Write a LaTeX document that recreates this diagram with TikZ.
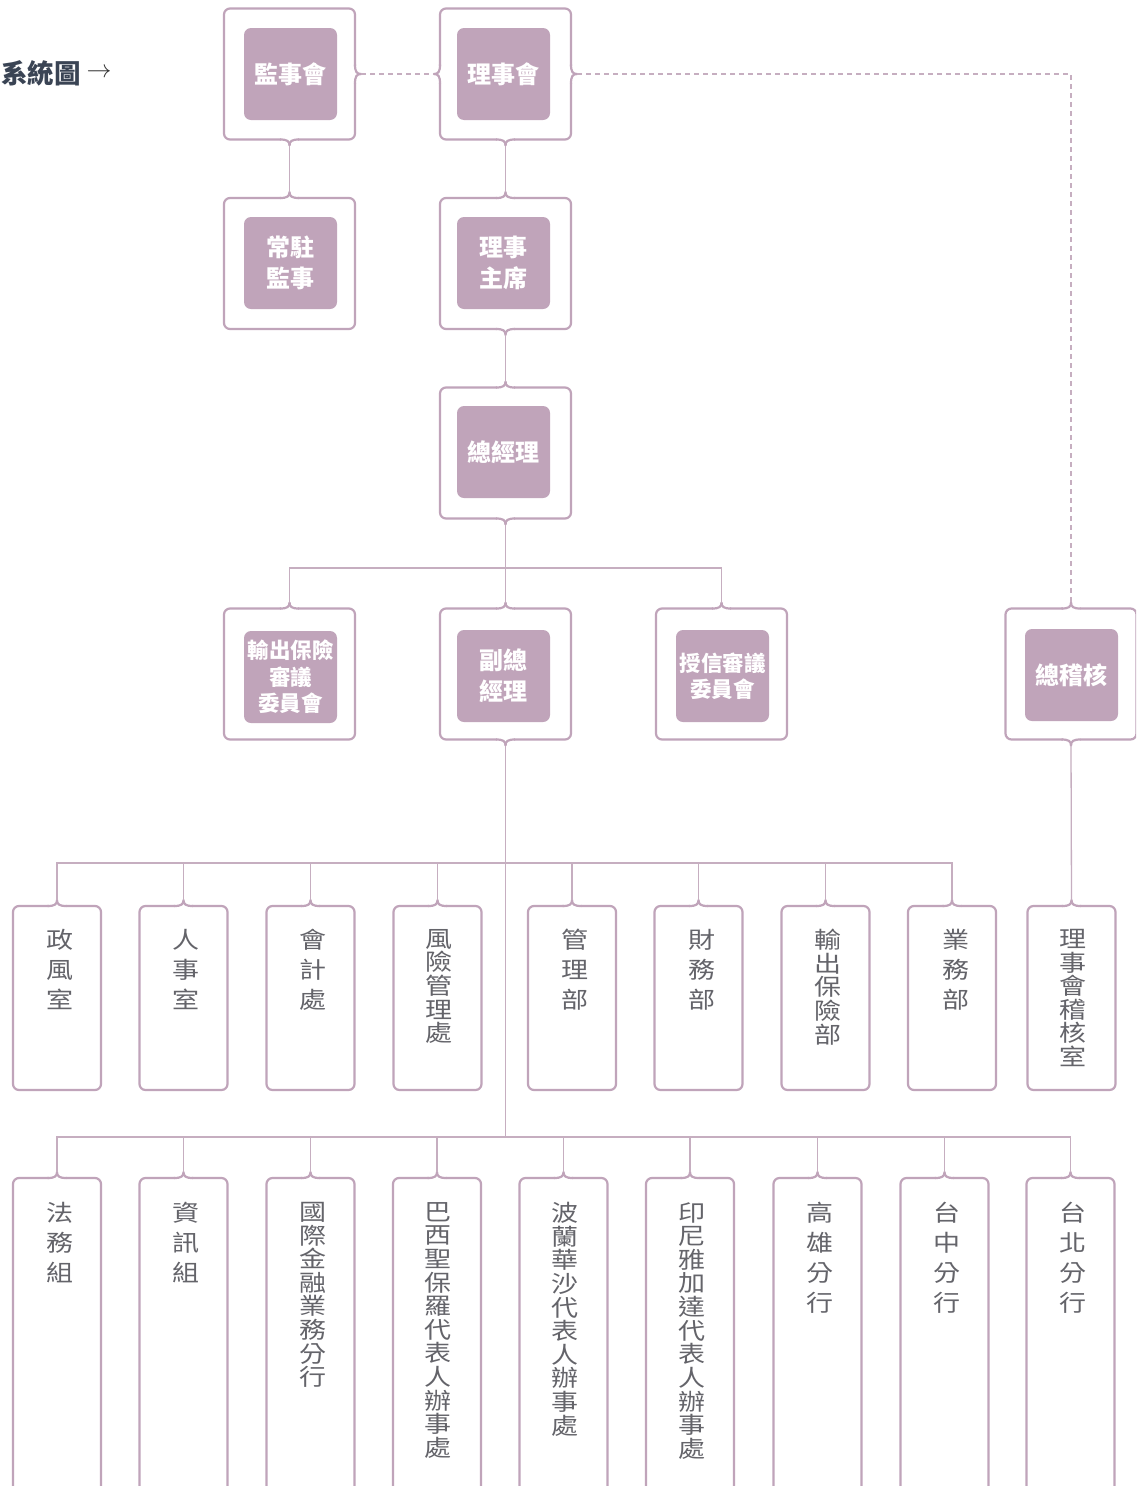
\documentclass[tikz,border=0pt]{standalone}
\usepackage{fontspec}
\newfontfamily\cjk{Noto Sans CJK TC}
\definecolor{mauve}{RGB}{192,164,186}
\definecolor{lnc}{RGB}{198,174,192}
\definecolor{gtext}{RGB}{100,100,106}
\definecolor{slate}{RGB}{58,68,84}
\tikzset{
  obox/.style={draw=mauve, line width=2.2pt, rounded corners=6pt, minimum width=131pt, minimum height=131pt, inner sep=0pt, outer sep=6pt},
  lbox/.style={obox, minimum width=88pt, minimum height=184pt},
  mbox/.style={obox, minimum width=88pt, minimum height=342pt},
  ibox/.style={fill=mauve, rounded corners=7pt, minimum width=93pt, minimum height=92pt, inner sep=0pt, text=white, align=center, font=\cjk\bfseries\fontsize{24}{31}\selectfont},
  iboxs/.style={ibox, font=\cjk\bfseries\fontsize{21.5}{26.5}\selectfont},
  vt/.style={text=gtext, align=center, inner sep=0pt, anchor=north, yscale=0.85, font=\cjk\fontsize{27}{35.3}\selectfont},
  vtl/.style={vt, font=\cjk\fontsize{27}{27.8}\selectfont},
  conn/.style={draw=lnc, line width=1.3pt},
  dconn/.style={conn, dash pattern=on 5pt off 4pt},
  brace/.style={draw=mauve, line width=2.2pt, line join=round},
  nT/.pic={\fill[white] (-8.5,4) rectangle (8.5,8);
    \path[brace] (-9.5,6) .. controls (-2.5,6) and (0,4.5) .. (0,0) .. controls (0,4.5) and (2.5,6) .. (9.5,6);},
  nB/.pic={\fill[white] (-8.5,-8) rectangle (8.5,-4);
    \path[brace] (-9.5,-6) .. controls (-2.5,-6) and (0,-4.5) .. (0,0) .. controls (0,-4.5) and (2.5,-6) .. (9.5,-6);},
  nL/.pic={\fill[white] (4,-8.5) rectangle (8,8.5);
    \path[brace] (6,-9.5) .. controls (6,-2.5) and (4.5,0) .. (0,0) .. controls (4.5,0) and (6,2.5) .. (6,9.5);},
  nR/.pic={\fill[white] (-8,-8.5) rectangle (-4,8.5);
    \path[brace] (-6,-9.5) .. controls (-6,-2.5) and (-4.5,0) .. (0,0) .. controls (-4.5,0) and (-6,2.5) .. (-6,9.5);},
}
\begin{document}
\begin{tikzpicture}[x=1pt,y=-1pt]
\useasboundingbox (0,0) rectangle (1136,1486);
\clip (0,0) rectangle (1136,1486);
\fill[white] (0,0) rectangle (1136,1486);

% title
\node[anchor=west, inner sep=0pt, text=slate, font=\cjk\bfseries\fontsize{26.5}{26.5}\selectfont] (title) at (1,73) {系統圖};
\node[inner sep=0pt, text=black!80, font=\fontsize{25}{25}\selectfont] (arrow) at (99,73) {$\rightarrow$};

% upper boxes
\node[obox] (jsh) at (289.5,74) {};
\node[ibox] (jshi) at (290.5,74) {監事會};
\node[obox] (lsh) at (505.5,74) {};
\node[ibox] (lshi) at (503.5,74) {理事會};
\node[obox] (czh) at (289.5,263.5) {};
\node[ibox] (czhi) at (290.5,263) {常駐\\監事};
\node[obox] (lszx) at (505.5,263.5) {};
\node[ibox] (lszxi) at (503.5,263) {理事\\主席};
\node[obox] (zjl) at (505.5,453) {};
\node[ibox] (zjli) at (503.5,452) {總經理};
\node[obox] (sc) at (289.5,674) {};
\node[iboxs] (sci) at (290.5,677) {輸出保險\\審議\\委員會};
\node[obox] (fz) at (505.5,674) {};
\node[ibox] (fzi) at (503.5,676) {副總\\經理};
\node[obox] (sx) at (721.5,674) {};
\node[iboxs] (sxi) at (722.5,676) {授信審議\\委員會};
\node[obox] (zjh) at (1071,674) {};
\node[ibox] (zjhi) at (1071.5,675) {總稽核};

% row 5
\foreach \n/\x in {r5a/57, r5b/183.5, r5c/310.5, r5d/437.5, r5e/572, r5f/698.5, r5g/825.5, r5h/952, r5i/1071.5}
  \node[lbox] (\n) at (\x,998) {};
\node[vt]  (t5a) at (59.5,929) {政\\風\\室};
\node[vt]  (t5b) at (185.5,929) {人\\事\\室};
\node[vt]  (t5c) at (312.5,929) {會\\計\\處};
\node[vtl] (t5d) at (438.5,929) {風\\險\\管\\理\\處};
\node[vt]  (t5e) at (575,929) {管\\理\\部};
\node[vt]  (t5f) at (702,929) {財\\務\\部};
\node[vtl] (t5g) at (827.5,929) {輸\\出\\保\\險\\部};
\node[vt]  (t5h) at (955.5,929) {業\\務\\部};
\node[vtl] (t5i) at (1072.5,929) {理\\事\\會\\稽\\核\\室};

% row 6
\foreach \n/\x in {r6a/57, r6b/183.5, r6c/310.5, r6d/437, r6e/563.5, r6f/690, r6g/817.5, r6h/944.5, r6i/1070.5}
  \node[mbox] (\n) at (\x,1349) {};
\node[vt]  (t6a) at (59.5,1202) {法\\務\\組};
\node[vt]  (t6b) at (185.5,1202) {資\\訊\\組};
\node[vtl] (t6c) at (312.5,1202) {國\\際\\金\\融\\業\\務\\分\\行};
\node[vtl] (t6d) at (437.5,1202) {巴\\西\\聖\\保\\羅\\代\\表\\人\\辦\\事\\處};
\node[vtl] (t6e) at (565,1202) {波\\蘭\\華\\沙\\代\\表\\人\\辦\\事\\處};
\node[vtl] (t6f) at (692,1202) {印\\尼\\雅\\加\\達\\代\\表\\人\\辦\\事\\處};
\node[vt]  (t6g) at (819.5,1202) {高\\雄\\分\\行};
\node[vt]  (t6h) at (946.5,1202) {台\\中\\分\\行};
\node[vt]  (t6i) at (1072.5,1202) {台\\北\\分\\行};

% notches
\pic at (jsh.east) {nR};
\pic at (jsh.south) {nB};
\pic at (lsh.west) {nL};
\pic at (lsh.east) {nR};
\pic at (lsh.south) {nB};
\pic at (czh.north) {nT};
\pic at (lszx.north) {nT};
\pic at (lszx.south) {nB};
\pic at (zjl.north) {nT};
\pic at (zjl.south) {nB};
\pic at (sc.north) {nT};
\pic at (fz.north) {nT};
\pic at (fz.south) {nB};
\pic at (sx.north) {nT};
\pic at (zjh.north) {nT};
\pic at (zjh.south) {nB};
\foreach \n in {r5a,r5b,r5c,r5d,r5e,r5f,r5g,r5h,r5i,r6a,r6b,r6c,r6d,r6e,r6f,r6g,r6h,r6i}
  \pic at (\n.north) {nT};

% connectors
\coordinate (bus4) at (505.5,568);
\coordinate (bus5) at (505.5,863);
\coordinate (bus6) at (505.5,1137);
\draw[conn] (jsh.south) -- (czh.north);
\draw[conn] (lsh.south) -- (lszx.north);
\draw[conn] (lszx.south) -- (zjl.north);
\draw[conn] (zjl.south) -- (fz.north);
\draw[conn] (sc.north) |- (bus4) -| (sx.north);
\draw[dconn] (jsh.east) -- (lsh.west);
\draw[dconn] (lsh.east) -| (zjh.north);
\draw[conn] (zjh.south) -- (r5i.north);
\draw[conn] (fz.south) -- (bus6);
\draw[conn] (r5a.north) |- (bus5) -| (r5h.north);
\foreach \n in {r5b,r5c,r5d,r5e,r5f,r5g}
  \draw[conn] (\n.north) -- (\n.north |- bus5);
\draw[conn] (r6a.north) |- (bus6) -| (r6i.north);
\foreach \n in {r6b,r6c,r6d,r6e,r6f,r6g,r6h}
  \draw[conn] (\n.north) -- (\n.north |- bus6);
\end{tikzpicture}
\end{document}
